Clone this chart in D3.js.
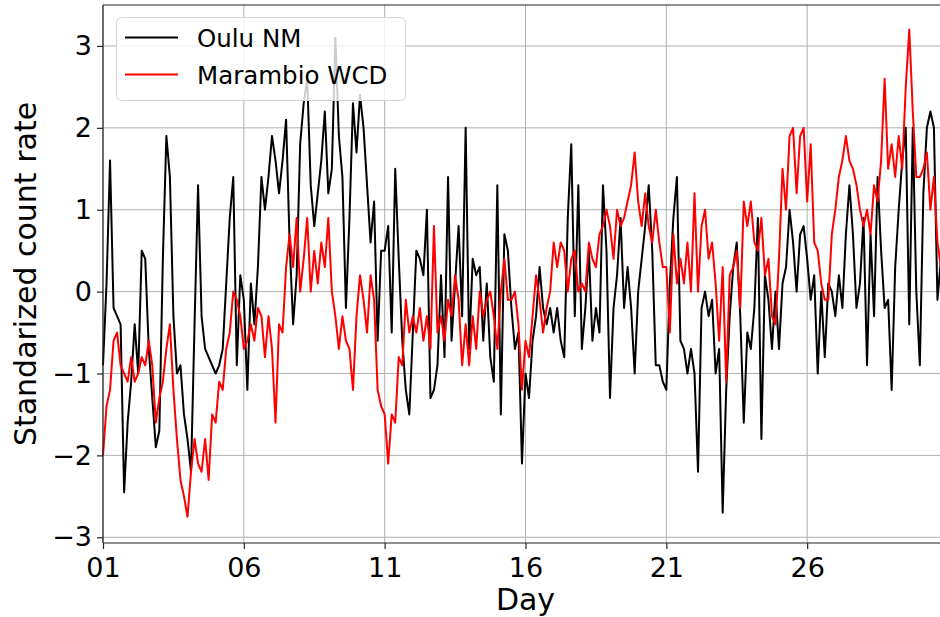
<!DOCTYPE html>
<html>
<head>
<meta charset="utf-8">
<script src="https://cdn.jsdelivr.net/npm/d3@7"></script>
<style>
  body { margin: 0; background: #fff; }
  svg { display: block; font-family: "DejaVu Sans", sans-serif; }
</style>
</head>
<body>
<div id="chart"></div>
<script>
// series sampled every 3 hours, starting on day 01 00:00
const stepDays = 3 / 24;
const startDay = 1;
const endDay = 31;

// Oulu NM standardized count rate (one row per day)
const ouluNM = [
  -0.9, 0.1, 1.6, -0.2, -0.3, -0.4, -2.45, -1.6,   // 01
  -1.1, -0.4, -1.0, 0.5, 0.4, -0.7, -1.3, -1.9,    // 02
  -1.7, 0.4, 1.9, 1.4, -0.3, -1.0, -0.9, -1.5,     // 03
  -1.8, -2.2, -0.4, 1.3, -0.3, -0.7, -0.8, -0.9,   // 04
  -1.0, -0.9, -0.7, 0.1, 0.9, 1.4, -0.9, 0.2,      // 05
  -0.1, -1.2, 0.1, -0.4, 0.3, 1.4, 1.0, 1.4,       // 06
  1.9, 1.6, 1.2, 1.6, 2.1, 0.6, -0.4, 0.2,         // 07
  1.8, 2.3, 2.6, 1.3, 0.8, 1.2, 1.6, 2.2,          // 08
  1.2, 1.5, 3.1, 1.9, 1.4, -0.2, 0.9, 2.3,         // 09
  1.7, 2.4, 2.0, 1.3, 0.6, 1.1, -0.6, 0.5,         // 10
  0.5, 0.8, -0.5, 1.5, 0.4, -0.6, -1.2, -1.5,      // 11
  -0.5, 0.5, 0.4, 0.2, 1.0, -1.3, -1.2, -0.9,      // 12
  0.2, -0.8, 1.4, -0.6, 0.1, 0.8, -0.3, 2.0,       // 13
  -0.7, 0.4, 0.2, 0.3, -0.6, 0.1, -0.8, -1.1,      // 14
  1.3, -1.5, 0.7, 0.5, -0.2, -0.7, -0.5, -2.1,     // 15
  -1.0, -1.3, -0.6, -0.3, 0.3, -0.2, -0.4, -0.2,   // 16
  -0.5, -0.2, -0.6, -0.8, 0.9, 1.8, -0.3, 1.3,     // 17
  -0.7, -0.2, 0.5, -0.6, -0.2, -0.5, 1.3, 0.5,     // 18
  -1.3, -0.2, 0.2, 0.9, -0.2, 0.3, -0.2, -1.0,     // 19
  0.0, 0.4, 0.8, 1.3, 0.5, -0.9, -0.9, -1.1,       // 20
  -1.2, 0.1, 0.9, 1.4, -0.6, -0.7, -1.0, -0.7,     // 21
  -1.0, -2.2, -0.2, 0.0, -0.3, -0.1, -1.0, -0.7,   // 22
  -2.7, -1.2, -0.3, 0.3, 0.6, -0.3, -1.6, -0.5,    // 23
  -0.7, -0.2, 0.9, -1.8, 0.2, -0.1, -0.7, 0.0,     // 24
  -0.7, 0.1, 0.3, 1.0, 0.6, 0.0, 0.7, 0.8,         // 25
  0.4, -0.1, 0.2, -1.0, 0.0, -0.8, 0.1, 0.0,       // 26
  -0.3, 0.2, -0.2, 0.7, 1.3, 0.7, -0.2, 0.1,       // 27
  0.9, -0.9, 0.7, -0.3, 1.4, 0.5, -0.2, -0.1,      // 28
  -1.2, 0.3, 1.0, 1.6, 2.0, -0.4, 2.0, 0.0,        // 29
  -0.9, 1.2, 2.0, 2.2, 2.0, -0.1, 0.4, 0.6         // 30
];

// Marambio WCD standardized count rate (one row per day)
const marambioWCD = [
  -2.0, -1.4, -1.2, -0.6, -0.5, -0.9, -1.0, -1.1,  // 01
  -0.8, -1.1, -1.0, -0.8, -0.9, -0.6, -0.9, -1.6,  // 02
  -1.3, -1.1, -0.7, -0.4, -1.2, -1.8, -2.3, -2.5,  // 03
  -2.75, -2.2, -1.8, -2.1, -2.2, -1.8, -2.3, -1.5, // 04
  -1.6, -1.1, -1.2, -0.7, -0.5, 0.0, -0.1, -0.3,   // 05
  -0.7, -0.6, -0.4, -0.6, -0.2, -0.3, -0.8, -0.3,  // 06
  -0.7, -1.6, -0.4, -0.5, 0.3, 0.7, 0.3, 0.9,      // 07
  0.0, 0.4, 0.9, 0.0, 0.5, 0.1, 0.6, 0.3,          // 08
  0.9, 0.0, -0.3, -0.7, -0.3, -0.6, -0.7, -1.2,    // 09
  -0.3, 0.2, -0.1, -0.5, 0.2, -0.1, -1.2, -1.4,    // 10
  -1.5, -2.1, -1.5, -1.6, -0.8, -0.9, -0.1, -0.5,  // 11
  -0.3, -0.5, -0.2, -0.6, -0.3, -0.7, 0.8, -0.5,   // 12
  -0.3, -0.6, -0.1, -0.3, 0.2, -0.1, -0.9, -0.4,   // 13
  -0.9, -0.3, -0.7, 0.0, -0.3, -0.1, 0.0, -0.3,    // 14
  -0.7, 0.0, 0.4, -0.1, -0.1, 0.0, -0.4, -1.2,     // 15
  -0.6, -0.8, -0.3, 0.2, -0.1, -0.5, -0.2, 0.0,    // 16
  0.6, 0.3, 0.6, 0.5, 0.0, 0.4, 0.5, 0.0,          // 17
  0.1, 0.0, 0.6, 0.4, 0.3, 0.7, 0.8, 1.0,          // 18
  0.8, 0.4, 1.0, 0.8, 0.9, 1.1, 1.3, 1.7,          // 19
  1.1, 0.8, 1.2, 0.8, 0.6, 1.0, 0.6, 0.3,          // 20
  0.3, -0.5, 0.7, 0.1, 0.4, 0.1, 0.6, 0.0,         // 21
  1.2, 0.0, 0.8, 1.0, 0.4, 0.6, 0.1, -0.6,         // 22
  0.3, -1.1, 0.2, 0.3, 0.5, -0.2, 1.1, 0.8,        // 23
  1.1, 0.6, 0.5, 0.9, 0.2, 0.4, -0.3, -0.4,        // 24
  0.4, 1.5, 1.0, 1.9, 2.0, 1.2, 1.9, 2.0,          // 25
  1.1, 1.8, 0.6, 0.5, 0.1, -0.1, -0.1, 0.7,        // 26
  1.0, 1.4, 1.6, 1.9, 1.6, 1.5, 1.3, 1.0,          // 27
  0.8, 1.0, 0.7, 1.3, 1.1, 1.6, 2.6, 1.5,          // 28
  1.8, 1.4, 1.9, 1.5, 2.5, 3.2, 2.2, 1.4,          // 29
  1.4, 1.5, 1.7, 1.0, 1.4, 0.6, 0.3, 0.5           // 30
];

const dayTicks = [1, 6, 11, 16, 21, 26];
const yTicks = [-3, -2, -1, 0, 1, 2, 3];
const seriesNames = ["Oulu NM", "Marambio WCD"];
const seriesColors = ["#000000", "#ff0000"];

const width = 940, height = 617;
const margin = {top: 5, left: 103, bottom: 74, right: -8};

const svg = d3.select('#chart')
    .append('svg')
    .attr('width', width)
    .attr('height', height)
;

const x = d3.scaleLinear()
    .domain([startDay, endDay])
    .range([margin.left, width - margin.right])
;
const y = d3.scaleLinear()
    .domain([-3.07, 3.5])
    .range([height - margin.bottom, margin.top])
;

// grid
svg.append('g')
    .selectAll('line')
    .data(dayTicks)
    .enter()
    .append('line')
    .attr('x1', d => x(d)).attr('x2', d => x(d))
    .attr('y1', margin.top).attr('y2', height - margin.bottom)
    .style('stroke', '#b0b0b0')
    .style('stroke-width', 1)
;
svg.append('g')
    .selectAll('line')
    .data(yTicks)
    .enter()
    .append('line')
    .attr('x1', margin.left).attr('x2', width - margin.right)
    .attr('y1', d => y(d)).attr('y2', d => y(d))
    .style('stroke', '#b0b0b0')
    .style('stroke-width', 1)
;

// lines
const line = d3.line()
    .x((d, i) => x(startDay + i * stepDays))
    .y(d => y(d))
;
[ouluNM, marambioWCD].forEach((s, k) => {
    svg.append('path')
        .datum(s)
        .attr('d', line)
        .style('fill', 'none')
        .style('stroke', seriesColors[k])
        .style('stroke-width', 2)
        .style('stroke-linejoin', 'round')
    ;
});

// axes
const xAxis = svg.append('g')
    .attr('transform', `translate(0, ${height - margin.bottom})`)
    .call(d3.axisBottom(x).tickValues(dayTicks).tickFormat(d3.format('02d')).tickSize(6).tickPadding(5))
;
const yAxis = svg.append('g')
    .attr('transform', `translate(${margin.left}, 0)`)
    .call(d3.axisLeft(y).tickValues(yTicks).tickFormat(d3.format('d')).tickSize(6).tickPadding(5))
;
[xAxis, yAxis].forEach(a => {
    a.select('.domain').remove();
    a.selectAll('line').style('stroke', '#222').style('stroke-width', 1.2);
    a.selectAll('text')
        .style('font-size', '27px')
        .style('font-family', '"DejaVu Sans"')
        .style('fill', '#000');
});
xAxis.selectAll('text').attr('dy', '0.85em');

// spines
svg.append('line')
    .attr('x1', margin.left).attr('x2', margin.left)
    .attr('y1', margin.top).attr('y2', height - margin.bottom)
    .style('stroke', '#222').style('stroke-width', 1.2);
svg.append('line')
    .attr('x1', margin.left).attr('x2', width - margin.right)
    .attr('y1', margin.top).attr('y2', margin.top)
    .style('stroke', '#222').style('stroke-width', 1.2);
svg.append('line')
    .attr('x1', margin.left).attr('x2', width - margin.right)
    .attr('y1', height - margin.bottom).attr('y2', height - margin.bottom)
    .style('stroke', '#222').style('stroke-width', 1.2);

// axis labels
svg.append('text')
    .text('Day')
    .attr('x', (margin.left + width - margin.right) / 2)
    .attr('y', 610)
    .attr('text-anchor', 'middle')
    .style('font-size', '30px')
;
svg.append('text')
    .text('Standarized count rate')
    .attr('text-anchor', 'middle')
    .attr('transform', `translate(36, ${(margin.top + height - margin.bottom) / 2}) rotate(-90)`)
    .style('font-size', '30px')
;

// legend
const legend = svg.append('g');
legend.append('rect')
    .attr('x', 116.5).attr('y', 17.5)
    .attr('width', 289).attr('height', 83)
    .attr('rx', 5)
    .style('fill', 'white')
    .style('fill-opacity', 0.8)
    .style('stroke', '#d5d5d5')
    .style('stroke-width', 1)
;
seriesNames.forEach((name, i) => {
    legend.append('line')
        .attr('x1', 125).attr('x2', 178)
        .attr('y1', 37.5 + i * 37).attr('y2', 37.5 + i * 37)
        .style('stroke', seriesColors[i])
        .style('stroke-width', 2)
    ;
    legend.append('text')
        .text(name)
        .attr('x', 197)
        .attr('y', 46.5 + i * 37)
        .style('font-size', '24.5px')
    ;
});
</script>
</body>
</html>
